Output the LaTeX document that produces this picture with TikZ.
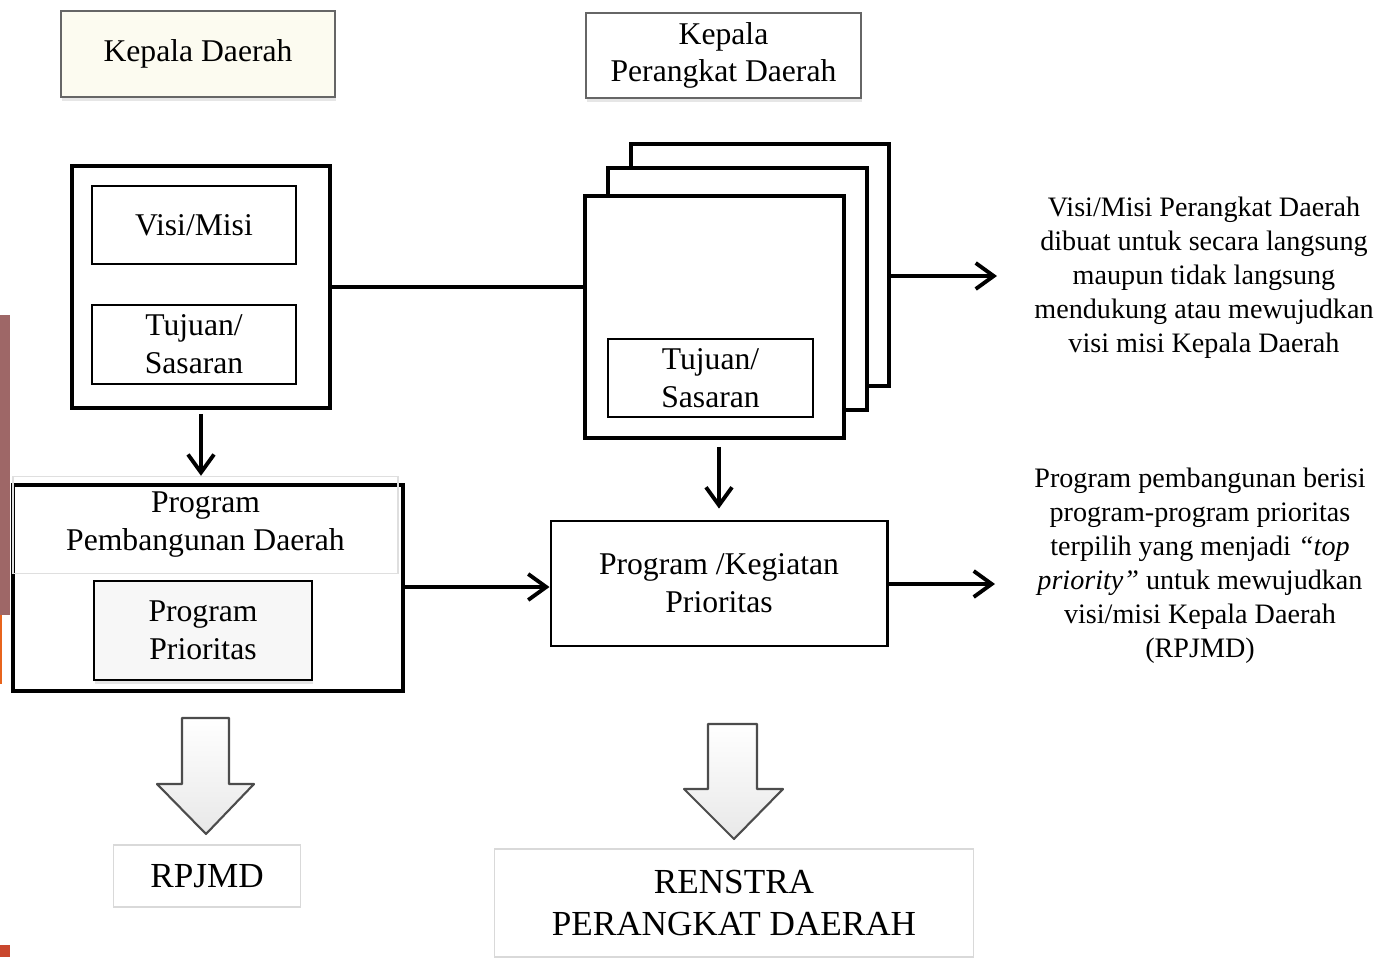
\documentclass[tikz,border=0pt]{standalone}
\usepackage{fontspec}
\setmainfont{Liberation Serif}
\usetikzlibrary{arrows.meta,shadows}
\definecolor{cream}{HTML}{FCFBF0}
\definecolor{slidebrown}{HTML}{9E6767}
\definecolor{slideorange}{HTML}{E8641C}
\definecolor{slidered}{HTML}{C9472E}
\begin{document}
\begin{tikzpicture}[x=0.01cm,y=-0.01cm,
    outerbox/.style={draw,line width=1pt,fill=white,inner sep=0pt},
    innerbox/.style={draw,line width=0.6pt,fill=white,align=center,inner sep=0pt,
      font=\fontsize{9}{10.8}\selectfont},
    headbox/.style={draw=gray!80!black,line width=0.8pt,align=center,inner sep=0pt,
      font=\fontsize{9}{10.6}\selectfont,
      drop shadow={opacity=0.2,shadow xshift=0.4pt,shadow yshift=-1.2pt}},
    outbox/.style={draw=gray!30,line width=0.4pt,fill=white,align=center,inner sep=0pt,
      font=\fontsize{10}{12.2}\selectfont},
    note/.style={align=center,inner sep=0pt,font=\fontsize{8}{9.67}\selectfont},
    arr/.style={-{Straight Barb[length=1.8mm,width=2.6mm]},line width=1.1pt},
    link/.style={line width=1.1pt},
    fatarrow/.style={draw=gray!60!black,line width=0.6pt,top color=white,bottom color=gray!18,
      line join=round}]
  \useasboundingbox (0,0) rectangle (1378,957);
  \fill[slidebrown] (0,315) rectangle (10,615);
  \fill[slideorange] (0,615) rectangle (2,684);
  \fill[slidered] (0,945) rectangle (10,957);

  \node[headbox,fill=cream,minimum width=2.74cm,minimum height=0.86cm] (kd) at (198,54) {Kepala Daerah};
  \node[headbox,fill=white,minimum width=2.75cm,minimum height=0.85cm] (kpd) at (723.5,55.5) {Kepala\\Perangkat Daerah};

  \node[outerbox,minimum width=2.58cm,minimum height=2.42cm] (lbox) at (201,287) {};
  \node[innerbox,minimum width=2.04cm,minimum height=0.78cm] (visi) at (194,225) {Visi/Misi};
  \node[innerbox,minimum width=2.04cm,minimum height=0.79cm] (tujuan) at (194,344.5) {Tujuan/\\Sasaran};

  \node[outerbox,minimum width=3.90cm,minimum height=2.06cm] (ppd) at (208,588) {};
  \node[draw=gray!25,line width=0.4pt,align=center,inner sep=0pt,font=\fontsize{9}{10.8}\selectfont,
    minimum width=3.85cm,minimum height=0.97cm] (ppdtitle) at (205.5,525) {Program\\Pembangunan Daerah};
  \node[innerbox,fill=gray!6,minimum width=2.18cm,minimum height=0.99cm,
    drop shadow={opacity=0.2,shadow xshift=0.4pt,shadow yshift=-1.2pt}] (prior) at (203,630.5) {Program\\Prioritas};

  \node[outerbox,minimum width=2.58cm,minimum height=2.42cm] (back) at (760,265) {};
  \node[outerbox,minimum width=2.59cm,minimum height=2.42cm] (mid) at (737.5,289) {};
  \node[outerbox,minimum width=2.59cm,minimum height=2.42cm] (front) at (714.5,317) {};
  \node[innerbox,minimum width=2.05cm,minimum height=0.78cm] (tujuan2) at (710.5,378) {Tujuan/\\Sasaran};

  \node[innerbox,line width=0.8pt,minimum width=3.36cm,minimum height=1.25cm] (keg) at (719,583.5) {Program /Kegiatan\\Prioritas};

  \node[note] (visitxt) at (1204,278) {Visi/Misi Perangkat Daerah\\dibuat untuk secara langsung\\maupun tidak langsung\\mendukung atau mewujudkan\\visi misi Kepala Daerah};
  \node[note] (progtxt) at (1200,566) {Program pembangunan berisi\\program-program prioritas\\terpilih yang menjadi \textit{``top}\\\textit{priority''} untuk mewujudkan\\visi/misi Kepala Daerah\\(RPJMD)};

  \coordinate (visiend) at (997,276);
  \coordinate (progend) at (995,584);

  \draw[arr,shorten <=0.4mm] (lbox.south) -- (lbox.south |- ppdtitle.north);
  \draw[link] (lbox.east) -- (lbox.east -| front.west);
  \draw[arr] (back.east |- visiend) -- (visiend);
  \draw[arr,shorten <=0.7mm,shorten >=1.1mm] (keg.north |- front.south) -- (keg.north);
  \draw[arr] (ppd.east |- 0,587) -- (keg.west |- 0,587);
  \draw[arr] (keg.east |- progend) -- (progend);

  \node[outbox,minimum width=1.87cm,minimum height=0.62cm] (rpjmd) at (207,876) {RPJMD};
  \node[outbox,minimum width=4.79cm,minimum height=1.08cm] (renstra) at (734,903) {RENSTRA\\PERANGKAT DAERAH};

  \draw[fatarrow] (182,718) -- (229,718) -- (229,784) -- (254,784) -- (206,834) -- (157,784) -- (182,784) -- cycle;
  \draw[fatarrow] (708,724) -- (757,724) -- (757,789) -- (783,789) -- (734,839) -- (684,789) -- (708,789) -- cycle;
\end{tikzpicture}
\end{document}
